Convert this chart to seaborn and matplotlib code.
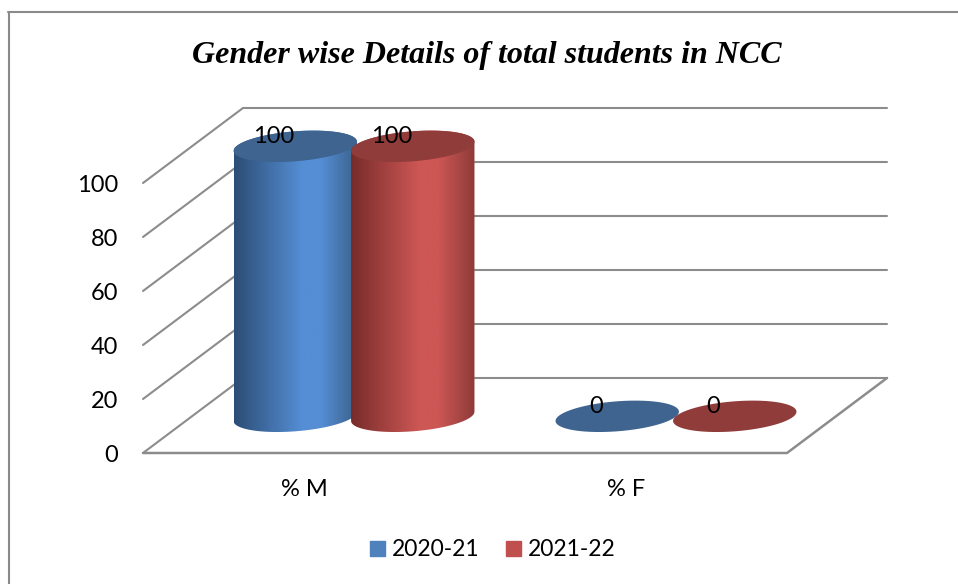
import numpy as np
import pandas as pd
import matplotlib
matplotlib.use('Agg')
import matplotlib.pyplot as plt
import seaborn as sns
from matplotlib.colors import LinearSegmentedColormap
from matplotlib.patches import Polygon
from matplotlib.transforms import ScaledTranslation

categories = ['% M', '% F']
years = ['2020-21', '2021-22']
values_2020 = [100, 0]
values_2021 = [100, 0]
y_ticks = [0, 20, 40, 60, 80, 100]

W, H = 958, 584
sns.set_theme(style='white')
plt.rcParams['font.family'] = ['Lato', 'DejaVu Sans']

df = pd.DataFrame({
    'cat': categories * 2,
    'year': [years[0]] * 2 + [years[1]] * 2,
    'val': values_2020 + values_2021,
})

fig = plt.figure(figsize=(W / 100, H / 100), dpi=100)
# axes = front plane of the 3d box
ax = fig.add_axes([143 / W, 1 - 453 / H, 644 / W, 270 / H])
sns.barplot(data=df, x='cat', y='val', hue='year', hue_order=years, order=categories,
            palette=['#4f81bd', '#c0504d'], width=0.73, gap=0, ax=ax, legend=False)
ax.set_xlim(-0.5, 1.5)
ax.set_ylim(0, 100)
ax.set_xlabel('')
ax.set_ylabel('')
ax.set_yticks(y_ticks)
ax.patch.set_alpha(0)
for s in ax.spines.values():
    s.set_visible(False)
ax.tick_params(axis='y', labelsize=17, length=0, pad=18, colors='black')
ax.tick_params(axis='x', labelsize=17, length=0, pad=18.5, colors='black')
# y labels sit a pixel lower than the tick position
nudge = ScaledTranslation(0, -1 / 100, fig.dpi_scale_trans)
for lab in ax.get_yticklabels():
    lab.set_transform(lab.get_transform() + nudge)

# depth of the box, data units
dx = 100 / 322
dy = 75 / 2.7
grid = '#8c8c8c'
xl, xr = -0.5, 1.5
for t in y_ticks:
    ax.plot([xl + dx, xr + dx], [t + dy, t + dy], color=grid, lw=1.5, clip_on=False, zorder=1)
    ax.plot([xl, xl + dx], [t, t + dy], color=grid, lw=1.5, clip_on=False, zorder=1)
ax.plot([xl, xr, xr + dx], [0, 0, dy], color=grid, lw=1.8, clip_on=False, zorder=1)


def ramp(c_left, c_mid, c_right):
    return LinearSegmentedColormap.from_list('r', [(0, c_left), (0.55, c_mid), (0.7, c_mid), (1, c_right)])


styles = [
    (ramp('#2c4d75', '#558ed5', '#3a6089'), '#3e648f'),
    (ramp('#772c2a', '#cd5755', '#8e3b39'), '#8f3c3a'),
]
a_y = 15 / 2.7
tilt = 0.075 / 2.7 * 322  # ellipse slope in data units
t = np.linspace(0, 2 * np.pi, 200)
n = len(categories)
lower = np.linspace(np.pi, 2 * np.pi, 100)
upper = np.linspace(0, np.pi, 100)

for i, bar in enumerate(ax.patches[:4]):
    bar.set_visible(False)
    cmap, top_col = styles[i // n]
    x0, w, h = bar.get_x(), bar.get_width(), bar.get_height()
    cx = x0 + w / 2 + dx / 2
    base = dy / 2 - 0.3
    top = base + h
    a_x = w / 2 * 1.05
    z = 3 + i // n
    if h > 0:
        # body outline: lower half of base ellipse + upper half of top ellipse
        xs = np.r_[cx + a_x * np.cos(lower), cx + a_x * np.cos(upper)]
        ys = np.r_[base + a_y * np.sin(lower) + tilt * a_x * np.cos(lower),
                   top + a_y * np.sin(upper) + tilt * a_x * np.cos(upper)]
        poly = Polygon(np.c_[xs, ys], closed=True, fc='none', ec='none', zorder=z)
        ax.add_patch(poly)
        im = ax.imshow(np.linspace(0, 1, 256)[None, :], cmap=cmap, aspect='auto',
                       extent=[cx - a_x, cx + a_x, base - 20, top + 20], zorder=z)
        im.set_clip_box(fig.bbox)
        im.set_clip_path(poly)
    ax.fill(cx + a_x * np.cos(t), top + a_y * np.sin(t) + tilt * a_x * np.cos(t),
            color=top_col, zorder=z + 0.1, clip_on=False, lw=0)
    ax.text(cx - 0.066, top + 3.8, '%g' % h, ha='center', va='center',
            fontsize=17, color='black', zorder=10)

ax.set_xlim(-0.5, 1.5)
ax.set_ylim(0, 100)

fig.text(487 / W, 1 - 56 / H, 'Gender wise Details of total students in NCC', ha='center', va='center',
         fontsize=23, fontweight='bold', fontstyle='italic', family='Liberation Serif', color='black')

# chart frame, only the top and left edges show
fig.add_artist(plt.Line2D([8.5 / W, 8.5 / W], [0, 1 - 12 / H], color='#8a8a8a', lw=1.5))
fig.add_artist(plt.Line2D([8 / W, 1], [1 - 12 / H, 1 - 12 / H], color='#8a8a8a', lw=1.5))

# legend
handles = [plt.Rectangle((0, 0), 1, 1, color=c) for c in ['#4f81bd', '#c0504d']]
fig.legend(handles, years, loc='center', bbox_to_anchor=(493 / W, 1 - 550 / H), ncol=2, frameon=False,
           fontsize=16.5, handlelength=0.65, handleheight=0.65, handletextpad=0.3, columnspacing=1.15, labelcolor='black')

fig.savefig('out.png', dpi=100, facecolor='white')
